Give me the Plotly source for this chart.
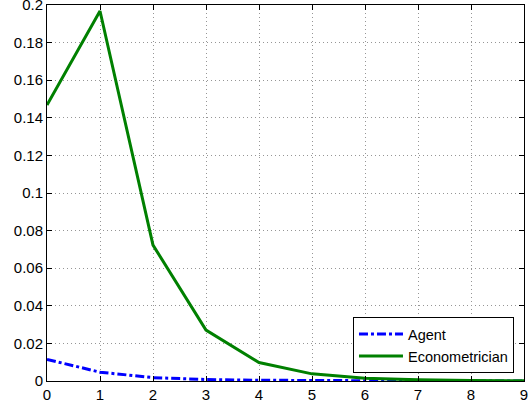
import plotly.graph_objects as go

x = [0, 1, 2, 3, 4, 5, 6, 7, 8, 9]
agent = [0.0115, 0.0047, 0.0018, 0.0008, 0.0004, 0.0002, 0.0001, 0.00005, 0.00002, 0.00001]
econ = [0.1468, 0.1968, 0.0723, 0.0271, 0.0098, 0.0038, 0.0015, 0.0006, 0.0002, 0.0001]
xticks = list(range(10))
yticks = [0, 0.02, 0.04, 0.06, 0.08, 0.1, 0.12, 0.14, 0.16, 0.18, 0.2]
ytext = ["0", "0.02", "0.04", "0.06", "0.08", "0.1", "0.12", "0.14", "0.16", "0.18", "0.2"]

FONT = "Liberation Sans, Arial, Helvetica, sans-serif"

fig = go.Figure()
fig.add_trace(go.Scatter(x=x, y=agent, mode="lines", name="Agent",
                         line=dict(color="rgb(0,0,255)", width=3, dash="dashdot")))
fig.add_trace(go.Scatter(x=x, y=econ, mode="lines", name="Econometrician",
                         line=dict(color="rgb(0,128,0)", width=3)))

axis_common = dict(showline=True, linecolor="black", linewidth=1, mirror="ticks",
                   ticks="inside", ticklen=5, tickcolor="black",
                   showgrid=True, gridcolor="rgb(150,150,150)", griddash="1px,3px", gridwidth=1,
                   zeroline=False, automargin=False, ticklabeloverflow="allow",
                   tickfont=dict(size=15, color="black", family=FONT))
fig.update_xaxes(range=[0, 9], tickvals=xticks, **axis_common)
fig.update_yaxes(range=[0, 0.2], tickvals=yticks, ticktext=ytext, **axis_common)

fig.update_layout(
    width=531, height=409,
    margin=dict(l=47, r=7, t=5, b=28),
    plot_bgcolor="white", paper_bgcolor="white",
    font=dict(family=FONT, size=14.5, color="black"),
    legend=dict(x=0.979, y=0.021, xanchor="right", yanchor="bottom",
                bordercolor="black", borderwidth=1, bgcolor="white",
                font=dict(size=14.5), tracegroupgap=0, itemwidth=44),
    showlegend=True,
)
fig.write_html("out.html", config={"displayModeBar": False},
               post_script="document.body.style.margin='0';")
